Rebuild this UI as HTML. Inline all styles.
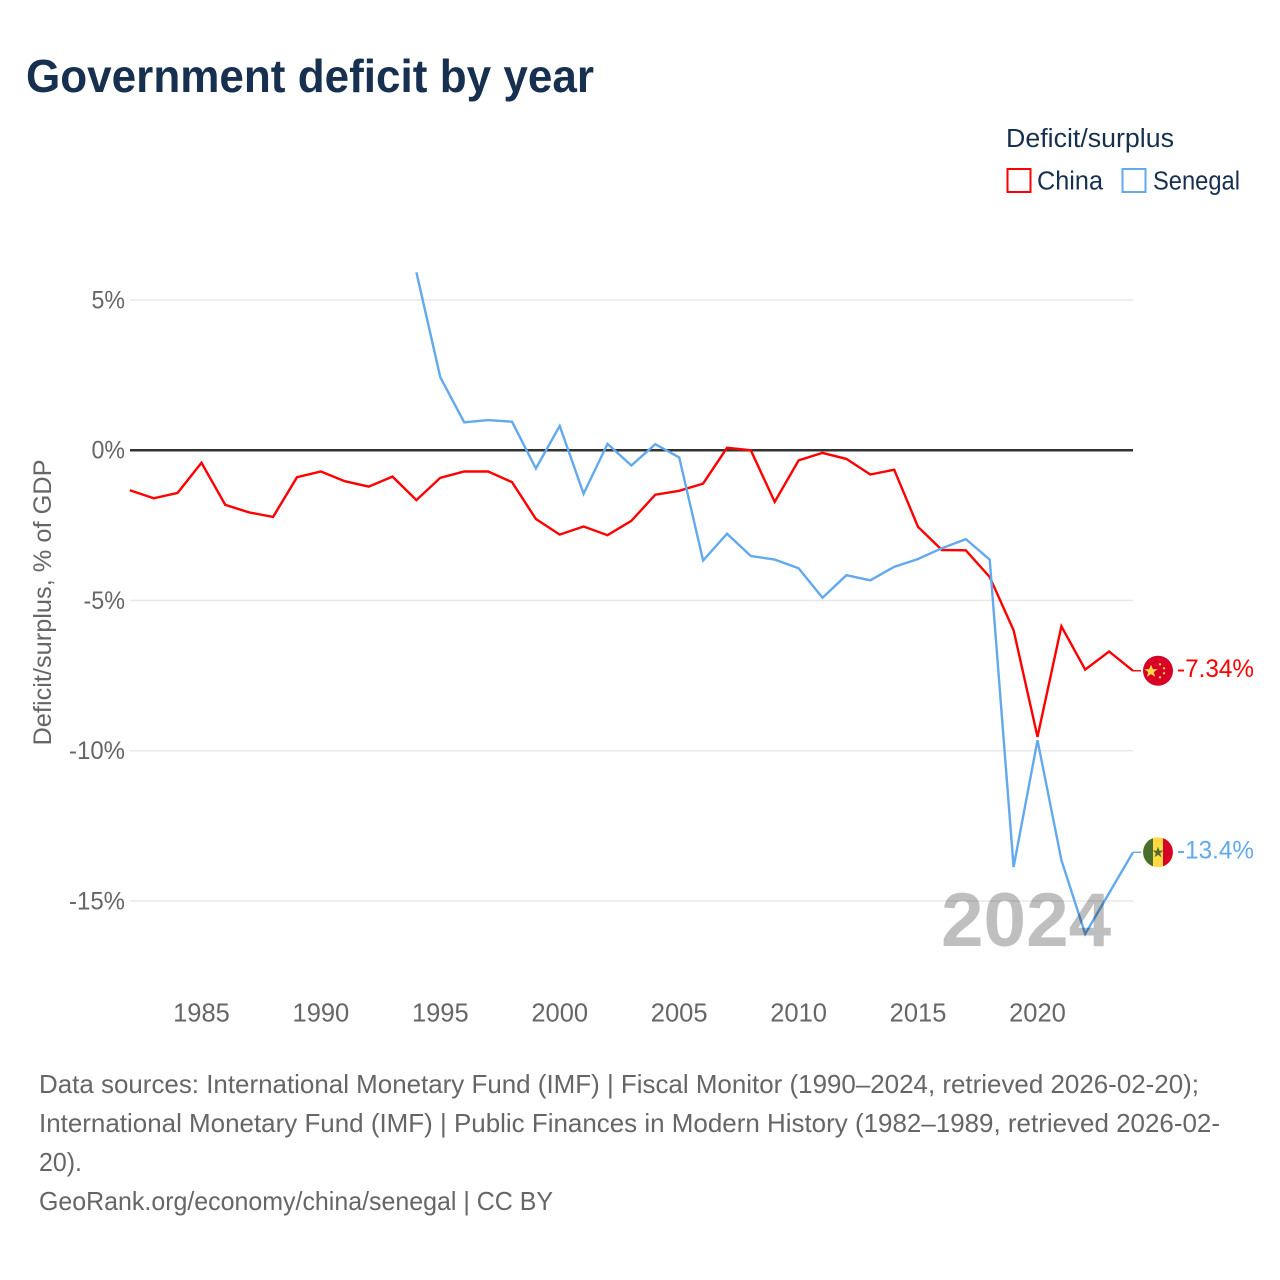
<!DOCTYPE html>
<html lang="en">
<head>
<meta charset="utf-8">
<title>Government deficit by year</title>
<style>
  html, body { margin: 0; padding: 0; background: #fff; }
  svg { display: block; font-family: "Liberation Sans", sans-serif; }
</style>
</head>
<body>
<svg id="chart" xmlns="http://www.w3.org/2000/svg" width="1280" height="1280" viewBox="0 0 1280 1280">
  <rect x="0" y="0" width="1280" height="1280" fill="#ffffff"/>
  <text x="26" y="92" font-size="46" font-weight="700" fill="#17304f" textLength="568" lengthAdjust="spacingAndGlyphs">Government deficit by year</text>

  <g>
    <text x="1006" y="147" font-size="25.5" fill="#17304f" textLength="168" lengthAdjust="spacingAndGlyphs">Deficit/surplus</text>
    <g>
      <rect x="1007.5" y="169" width="23" height="23" fill="none" stroke="#ff0000" stroke-width="2"/>
      <text x="1037" y="189.5" font-size="25.5" fill="#17304f" textLength="66" lengthAdjust="spacingAndGlyphs">China</text>
    </g>
    <g>
      <rect x="1122.5" y="169" width="23" height="23" fill="none" stroke="#62a9ee" stroke-width="2"/>
      <text x="1153" y="189.5" font-size="25.5" fill="#17304f" textLength="87" lengthAdjust="spacingAndGlyphs">Senegal</text>
    </g>
  </g>

  <g id="grid"></g>
  <g id="yticks"></g>
  <g id="xticks"></g>
  <text transform="translate(51 602.5) rotate(-90)" text-anchor="middle" font-size="25" fill="#666666" textLength="286" lengthAdjust="spacingAndGlyphs">Deficit/surplus, % of GDP</text>

  <g id="series"></g>

  <text x="941" y="946" font-size="76.5" font-weight="700" fill="#000000" fill-opacity="0.25">2024</text>

  <g id="china-end">
    <circle cx="1158" cy="0" r="15" fill="#d80027"/>
    <polygon points="1151,-6 1152.9,-1.6 1157.5,-1.6 1153.8,1.3 1155.1,6 1151,3.3 1146.9,6 1148.2,1.3 1144.5,-1.6 1149.1,-1.6" fill="#ffda44"/>
    <circle cx="1160" cy="-6.5" r="1.2" fill="#ffda44"/>
    <circle cx="1164" cy="-2.5" r="1.2" fill="#ffda44"/>
    <circle cx="1164" cy="2.5" r="1.2" fill="#ffda44"/>
    <circle cx="1160" cy="6.5" r="1.2" fill="#ffda44"/>
  </g>
  <g id="senegal-end">
    <circle cx="1158" cy="0" r="15" fill="#ffda44"/>
    <path d="M1153 -14.1 A15 15 0 0 0 1153 14.1 Z" fill="#496e2d"/>
    <path d="M1163 -14.1 A15 15 0 0 1 1163 14.1 Z" fill="#d80027"/>
    <polygon points="1158,-5.5 1159.4,-1.7 1163.3,-1.7 1160.2,0.9 1161.3,4.8 1158,2.5 1154.7,4.8 1155.8,0.9 1152.7,-1.7 1156.6,-1.7" fill="#496e2d"/>
  </g>
  <g id="endlabels"></g>

  <g font-size="26" fill="#666666">
    <text x="39" y="1093" textLength="1160" lengthAdjust="spacingAndGlyphs">Data sources: International Monetary Fund (IMF) | Fiscal Monitor (1990–2024, retrieved 2026-02-20);</text>
    <text x="39" y="1132" textLength="1181" lengthAdjust="spacingAndGlyphs">International Monetary Fund (IMF) | Public Finances in Modern History (1982–1989, retrieved 2026-02-</text>
    <text x="39" y="1171" textLength="43" lengthAdjust="spacingAndGlyphs">20).</text>
    <text x="39" y="1210" textLength="514" lengthAdjust="spacingAndGlyphs">GeoRank.org/economy/china/senegal | CC BY</text>
  </g>
</svg>

<script>
const chinaYears = [1982,1983,1984,1985,1986,1987,1988,1989,1990,1991,1992,1993,1994,1995,1996,1997,1998,1999,2000,2001,2002,2003,2004,2005,2006,2007,2008,2009,2010,2011,2012,2013,2014,2015,2016,2017,2018,2019,2020,2021,2022,2023,2024];
const chinaValues = [-1.33,-1.6,-1.42,-0.42,-1.82,-2.07,-2.22,-0.9,-0.71,-1.03,-1.21,-0.88,-1.66,-0.92,-0.71,-0.71,-1.06,-2.29,-2.81,-2.54,-2.83,-2.35,-1.48,-1.35,-1.11,0.08,0.0,-1.72,-0.34,-0.09,-0.29,-0.81,-0.65,-2.55,-3.32,-3.33,-4.22,-5.99,-9.54,-5.86,-7.3,-6.7,-7.34];
const senegalYears = [1994,1995,1996,1997,1998,1999,2000,2001,2002,2003,2004,2005,2006,2007,2008,2009,2010,2011,2012,2013,2014,2015,2016,2017,2018,2019,2020,2021,2022,2023,2024];
const senegalValues = [5.92,2.43,0.93,1.0,0.95,-0.61,0.81,-1.45,0.21,-0.51,0.2,-0.24,-3.67,-2.78,-3.52,-3.64,-3.93,-4.91,-4.16,-4.33,-3.88,-3.62,-3.26,-2.96,-3.64,-13.87,-9.65,-13.64,-16.1,-14.74,-13.38];
const yTickValues = [5,0,-5,-10,-15];
const yTickLabels = ["5%","0%","-5%","-10%","-15%"];
const xTickYears = [1985,1990,1995,2000,2005,2010,2015,2020];
const endValueLabels = ["-7.34%","-13.4%"];

const NS = "http://www.w3.org/2000/svg";
function xScale(year) { return 129.8 + (year - 1982) * 23.886; }
function yScale(value) { return 450.2 - value * 30.05; }
function makeEl(tag, attrs, parent) {
  const el = document.createElementNS(NS, tag);
  for (const k in attrs) el.setAttribute(k, attrs[k]);
  parent.appendChild(el);
  return el;
}
function tickLabelWidth(label) {
  let w = 0;
  for (const ch of label) {
    if (ch === "-") w += 8;
    else if (ch === "%") w += 19;
    else w += 14.5;
  }
  return w;
}

const gridGroup = document.getElementById("grid");
const yTickGroup = document.getElementById("yticks");
const xTickGroup = document.getElementById("xticks");
const seriesGroup = document.getElementById("series");
const labelGroup = document.getElementById("endlabels");

yTickValues.forEach(function (v, i) {
  if (v !== 0) {
    const line = makeEl("line", { x1: 130, x2: 1133, y1: yScale(v), y2: yScale(v), stroke: "#e8e8e8", "stroke-width": 1.5 }, gridGroup);
    
    
  }
  const t = makeEl("text", { x: 125, y: yScale(v) + 8.5, "text-anchor": "end", "font-size": 25, fill: "#666666", textLength: tickLabelWidth(yTickLabels[i]), lengthAdjust: "spacingAndGlyphs" }, yTickGroup);
  t.textContent = yTickLabels[i];
  
  
});

const zero = makeEl("line", { x1: 130, x2: 1133, y1: yScale(0), y2: yScale(0), stroke: "#333333", "stroke-width": 2.5 }, gridGroup);



xTickYears.forEach(function (yr) {
  const t = makeEl("text", { x: xScale(yr), y: 1021.5, "text-anchor": "middle", "font-size": 25.5, fill: "#666666" }, xTickGroup);
  t.textContent = String(yr);
  
  
});

function pointsFor(years, values) {
  return years.map(function (yr, i) { return xScale(yr).toFixed(1) + "," + yScale(values[i]).toFixed(1); }).join(" ");
}

const chinaLine = makeEl("polyline", { points: pointsFor(chinaYears, chinaValues), fill: "none", stroke: "#ff0000", "stroke-width": 2.4, "stroke-linejoin": "miter" }, seriesGroup);



const senegalLine = makeEl("polyline", { points: pointsFor(senegalYears, senegalValues), fill: "none", stroke: "#62a9ee", "stroke-width": 2.4, "stroke-linejoin": "miter" }, seriesGroup);



const chinaEndY = yScale(chinaValues[chinaValues.length - 1]);
const senegalEndY = yScale(senegalValues[senegalValues.length - 1]);

const chinaStub = makeEl("line", { x1: 1133, x2: 1141, y1: chinaEndY, y2: chinaEndY, stroke: "#ff0000", "stroke-width": 1.4 }, seriesGroup);



const senegalStub = makeEl("line", { x1: 1133, x2: 1141, y1: senegalEndY, y2: senegalEndY, stroke: "#62a9ee", "stroke-width": 1.4 }, seriesGroup);



document.getElementById("china-end").setAttribute("transform", "translate(0 " + chinaEndY + ")");
document.getElementById("senegal-end").setAttribute("transform", "translate(0 " + senegalEndY + ")");

const chinaLabel = makeEl("text", { x: 1177, y: chinaEndY + 6, "font-size": 25, fill: "#ff0000", textLength: 77, lengthAdjust: "spacingAndGlyphs" }, labelGroup);
chinaLabel.textContent = endValueLabels[0];



const senegalLabel = makeEl("text", { x: 1177, y: senegalEndY + 6, "font-size": 25, fill: "#62a9ee", textLength: 77, lengthAdjust: "spacingAndGlyphs" }, labelGroup);
senegalLabel.textContent = endValueLabels[1];


</script>
</body>
</html>
